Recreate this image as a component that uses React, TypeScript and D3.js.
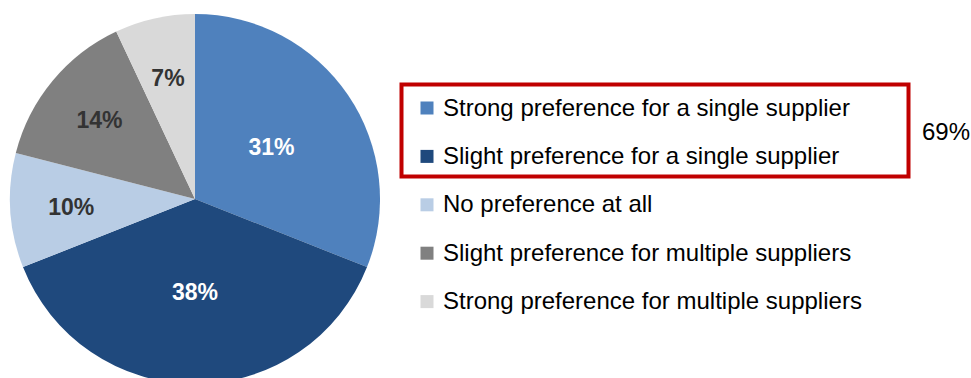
import React from "react";
import * as d3 from "d3";

const categories = [
  "Strong preference for a single supplier",
  "Slight preference for a single supplier",
  "No preference at all",
  "Slight preference for multiple suppliers",
  "Strong preference for multiple suppliers",
];
const values = [31, 38, 10, 14, 7];
const colors = ["#4F81BD", "#1F497D", "#B9CDE5", "#808080", "#D9D9D9"];
const labelColors = ["#FFFFFF", "#FFFFFF", "#333333", "#333333", "#333333"];
const groupedCount = 2;

const W = 971;
const H = 378;
const cx = 195;
const cy = 199;
const R = 185;

export default function App() {
  const pie = d3.pie<number>().sort(null).value((d) => d)(values);
  const arc = d3.arc<d3.PieArcDatum<number>>().innerRadius(0).outerRadius(R);
  const total = d3.sum(values);
  const groupTotal = d3.sum(values.slice(0, groupedCount));

  const legendY = d3.scaleLinear().domain([0, 1]).range([108, 156.4]);
  const legendX = 420.5;
  const sq = 13;

  return (
    <svg
      width={W}
      height={H}
      style={{ position: "absolute", left: 0, top: 0, background: "#fff" }}
      fontFamily="Arial, 'Liberation Sans', sans-serif"
    >
      <g transform={`translate(${cx},${cy})`}>
        {pie.map((p, i) => (
          <path key={i} d={arc(p) || ""} fill={colors[i]} />
        ))}
        {pie.map((p, i) => {
          const frac = p.value / total;
          const lr = R * (frac > 0.2 ? 0.5 : 0.67);
          const a = (p.startAngle + p.endAngle) / 2;
          const x = lr * Math.sin(a);
          const y = -lr * Math.cos(a);
          return (
            <text
              key={i}
              x={x}
              y={y + 8}
              textAnchor="middle"
              fontSize={23}
              fontWeight="bold"
              fill={labelColors[i]}
            >
              {`${values[i]}%`}
            </text>
          );
        })}
      </g>
      <rect
        x={401.5}
        y={84.5}
        width={507}
        height={92}
        fill="none"
        stroke="#C00000"
        strokeWidth={4}
      />
      {categories.map((c, i) => (
        <g key={c} transform={`translate(${legendX},${legendY(i)})`}>
          <rect x={0} y={-sq / 2} width={sq} height={sq} fill={colors[i]} />
          <text x={22.5} y={7.5} fontSize={24} fill="#000">
            {c}
          </text>
        </g>
      ))}
      <text
        x={922}
        y={(legendY(0) + legendY(groupedCount - 1)) / 2 + 8}
        fontSize={24}
        fill="#000"
      >
        {`${groupTotal}%`}
      </text>
    </svg>
  );
}
